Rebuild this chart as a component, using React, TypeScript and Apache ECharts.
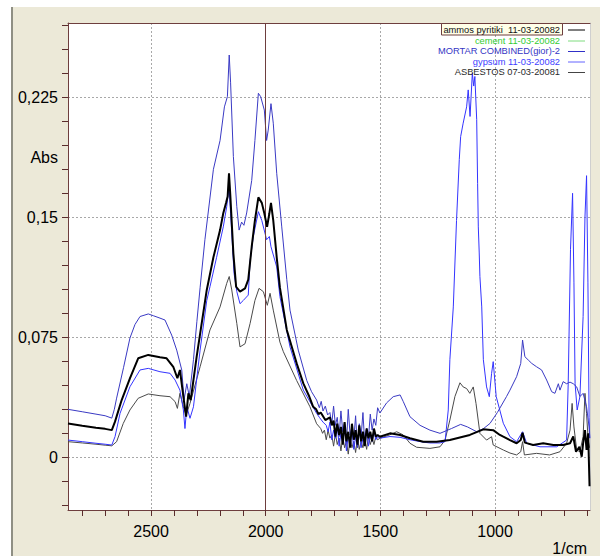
import { useEffect, useRef } from "react";
import * as echarts from "echarts";

// ---------- axis ticks ----------
const xMajorTicks = [1000, 1500, 2000, 2500];
const xMinorTicks = [600, 700, 800, 900, 1000, 1100, 1200, 1300, 1400, 1500, 1600, 1700, 1800, 1900, 2000, 2100, 2200, 2300, 2400, 2500, 2600, 2700, 2800];
const yMajorTicks = [0, 0.075, 0.15, 0.225];
const yLabelValues = [0, 0.075, 0.15, 0.1875, 0.225];
const yMinorTicks = [-0.03, -0.015, 0, 0.015, 0.03, 0.045, 0.06, 0.075, 0.09, 0.105, 0.12, 0.135, 0.15, 0.165, 0.18, 0.195, 0.21, 0.225, 0.24, 0.255, 0.27];
const xMin = 586;
const xMax = 2862;
const yMin = -0.0329;
const yMax = 0.2714;
const cursorWavenumber = 2000;

// ---------- legend ----------
const seriesNames = [
  "ammos pyritiki  11-03-20082",
  "cement 11-03-20082",
  "MORTAR COMBINED(gior)-2",
  "gypsum 11-03-20082",
  "ASBESTOS 07-03-20081",
];

// ---------- series values: [wavenumber (1/cm), Abs] ----------
const ammosData: number[][] = [
  [2862, 0.0212], [2800, 0.0198], [2740, 0.0185], [2700, 0.0178], [2671, 0.017], [2657, 0.0223], [2628, 0.0358], [2592, 0.0494],
  [2556, 0.0619], [2512, 0.064], [2461, 0.0625], [2432, 0.0619], [2403, 0.0566], [2385, 0.0494], [2374, 0.0546], [2359, 0.0379],
  [2347, 0.0254], [2337, 0.04], [2327, 0.0358], [2301, 0.0629], [2257, 0.1046], [2228, 0.125], [2199, 0.142], [2185, 0.1525],
  [2173, 0.159], [2166, 0.163], [2160, 0.1775], [2154, 0.163], [2141, 0.1275], [2129, 0.1066], [2112, 0.1035], [2090, 0.1056],
  [2076, 0.111], [2061, 0.1316], [2047, 0.148], [2032, 0.1625], [2017, 0.159], [2006, 0.1525], [1994, 0.144], [1984, 0.1525],
  [1977, 0.159], [1967, 0.148], [1952, 0.125], [1938, 0.106], [1908, 0.0796], [1865, 0.0587], [1836, 0.0462], [1810, 0.038],
  [1793, 0.0316], [1780, 0.030], [1770, 0.027], [1760, 0.028], [1740, 0.0233],
  [1720, 0.025], [1712, 0.02], [1704, 0.023], [1696, 0.013], [1688, 0.021], [1680, 0.014], [1672, 0.019], [1664, 0.008],
  [1656, 0.022], [1648, 0.01], [1640, 0.016], [1632, 0.006], [1624, 0.021], [1616, 0.011], [1608, 0.017], [1600, 0.008],
  [1592, 0.02], [1584, 0.01], [1576, 0.016], [1568, 0.007], [1560, 0.018], [1552, 0.012], [1544, 0.016], [1536, 0.01],
  [1528, 0.018], [1520, 0.013], [1512, 0.014],
  [1502, 0.0129], [1458, 0.015], [1414, 0.014], [1371, 0.0119], [1313, 0.0098], [1255, 0.0098], [1197, 0.0108], [1110, 0.014],
  [1051, 0.0175], [1008, 0.017], [979, 0.014], [964, 0.0129], [935, 0.0108], [906, 0.0088], [888, 0.0108], [880, 0.0154],
  [870, 0.0092], [834, 0.0077], [790, 0.0088], [746, 0.0077], [703, 0.0077], [673, 0.0088], [659, 0.013], [647, 0.0035],
  [632, 0.0066], [622, 0.0004], [616, 0.0088], [608, 0.017], [601, 0.0046], [594, 0.015], [588, -0.018],
];

const cementData: number[][] = [];

const mortarData: number[][] = [
  [2862, 0.03], [2800, 0.0285], [2740, 0.027], [2700, 0.026], [2671, 0.0245], [2660, 0.03], [2650, 0.037], [2620, 0.056],
  [2592, 0.0745], [2570, 0.083], [2548, 0.088], [2512, 0.0896], [2490, 0.0885], [2461, 0.087], [2439, 0.0858], [2410, 0.0764],
  [2388, 0.067], [2366, 0.0546], [2356, 0.036], [2344, 0.046], [2333, 0.038], [2315, 0.061], [2300, 0.085], [2286, 0.106],
  [2265, 0.136], [2228, 0.18], [2199, 0.198], [2180, 0.219], [2167, 0.2254], [2159, 0.2514], [2153, 0.234], [2141, 0.188],
  [2126, 0.1566], [2116, 0.142], [2105, 0.147], [2095, 0.145], [2083, 0.1527], [2061, 0.173], [2047, 0.198], [2032, 0.2275],
  [2022, 0.2254], [2006, 0.217], [1996, 0.198], [1989, 0.2045], [1977, 0.221], [1967, 0.2088], [1952, 0.1775], [1930, 0.144],
  [1908, 0.111], [1894, 0.092], [1858, 0.067], [1821, 0.048], [1800, 0.041], [1778, 0.0358], [1766, 0.031], [1758, 0.035],
  [1750, 0.029], [1740, 0.032], [1730, 0.0265],
  [1720, 0.028], [1712, 0.021], [1704, 0.032], [1696, 0.02], [1688, 0.025], [1680, 0.013], [1672, 0.029], [1664, 0.016],
  [1656, 0.022], [1648, 0.009], [1640, 0.03], [1632, 0.014], [1624, 0.019], [1616, 0.011], [1608, 0.026], [1600, 0.006],
  [1592, 0.021], [1584, 0.013], [1576, 0.028], [1568, 0.008], [1560, 0.018], [1552, 0.012], [1544, 0.027], [1536, 0.017],
  [1528, 0.024], [1520, 0.02], [1512, 0.031],
  [1502, 0.0277], [1473, 0.034], [1444, 0.0379], [1414, 0.039], [1400, 0.0348], [1371, 0.0254], [1327, 0.02], [1284, 0.017],
  [1240, 0.015], [1190, 0.018], [1150, 0.0206], [1120, 0.019], [1080, 0.016], [1050, 0.018], [1022, 0.0212], [990, 0.028],
  [950, 0.038], [935, 0.042], [906, 0.0504], [888, 0.0587], [880, 0.0733], [870, 0.0629], [855, 0.0608], [840, 0.0587],
  [819, 0.0566], [797, 0.0546], [775, 0.0483], [753, 0.041], [739, 0.04], [724, 0.046], [717, 0.042], [703, 0.0473],
  [688, 0.046], [673, 0.047], [659, 0.046], [644, 0.044], [630, 0.038], [616, 0.04], [601, 0.0316], [590, 0.019], [587, 0.012],
];

const gypsumData: number[][] = [
  [2862, 0.0108], [2800, 0.0098], [2740, 0.0088], [2700, 0.0082], [2671, 0.0077], [2657, 0.0129], [2635, 0.0275], [2592, 0.0441],
  [2548, 0.0546], [2512, 0.0556], [2461, 0.0535], [2417, 0.0525], [2395, 0.0483], [2374, 0.042], [2359, 0.0296], [2352, 0.018],
  [2344, 0.0316], [2330, 0.0244], [2315, 0.0316], [2286, 0.067], [2257, 0.098], [2243, 0.1066], [2214, 0.125], [2185, 0.144],
  [2170, 0.1566], [2160, 0.169], [2153, 0.1525], [2138, 0.115], [2126, 0.1036], [2112, 0.096], [2098, 0.098], [2076, 0.1014],
  [2068, 0.123], [2054, 0.138], [2032, 0.1535], [2017, 0.148], [1996, 0.136], [1984, 0.138], [1977, 0.1316], [1952, 0.119],
  [1938, 0.1004], [1894, 0.069], [1836, 0.042], [1800, 0.033], [1778, 0.0275], [1766, 0.025], [1750, 0.022],
  [1736, 0.02], [1728, 0.016], [1720, 0.022], [1712, 0.011], [1704, 0.017], [1696, 0.012], [1688, 0.021], [1680, 0.007],
  [1672, 0.015], [1664, 0.009], [1656, 0.019], [1648, 0.004], [1640, 0.014], [1632, 0.008], [1624, 0.018], [1616, 0.005],
  [1608, 0.013], [1600, 0.007], [1592, 0.02], [1584, 0.006], [1576, 0.012], [1568, 0.009], [1560, 0.018], [1552, 0.007],
  [1544, 0.014], [1536, 0.01], [1528, 0.017], [1520, 0.011], [1512, 0.013],
  [1502, 0.012], [1458, 0.013], [1414, 0.0125], [1371, 0.011], [1313, 0.0095], [1284, 0.009], [1240, 0.009], [1218, 0.0098],
  [1204, 0.0296], [1197, 0.061], [1182, 0.094], [1168, 0.148], [1156, 0.186], [1150, 0.2004], [1139, 0.2088], [1124, 0.219],
  [1117, 0.2296], [1109, 0.213], [1099, 0.24], [1093, 0.232], [1088, 0.238], [1080, 0.211], [1076, 0.171], [1073, 0.144],
  [1069, 0.1277], [1066, 0.113], [1058, 0.094], [1051, 0.061], [1037, 0.044], [1025, 0.0379], [1015, 0.0525], [1008, 0.0598],
  [995, 0.038], [964, 0.0213], [935, 0.0129], [906, 0.0098], [880, 0.016], [862, 0.0088], [804, 0.0066], [731, 0.0066],
  [688, 0.0108], [681, 0.046], [671, 0.13], [662, 0.165], [656, 0.109], [651, 0.046], [642, 0.0296], [630, 0.038],
  [616, 0.088], [608, 0.15], [601, 0.176], [595, 0.109], [590, 0.025], [587, 0.012],
];

const asbestosData: number[][] = [
  [2862, 0.0098], [2800, 0.009], [2740, 0.0082], [2700, 0.0076], [2671, 0.0072], [2650, 0.0098], [2621, 0.0212], [2592, 0.0296],
  [2556, 0.0369], [2512, 0.0396], [2461, 0.0385], [2417, 0.0379], [2395, 0.0348], [2385, 0.0306], [2374, 0.04], [2359, 0.0316],
  [2347, 0.0264], [2330, 0.0337], [2286, 0.0566], [2243, 0.0796], [2199, 0.094], [2170, 0.1087], [2159, 0.113], [2148, 0.1046],
  [2126, 0.0837], [2112, 0.069], [2090, 0.071], [2068, 0.0837], [2047, 0.098], [2029, 0.1056], [2010, 0.1035], [1993, 0.095],
  [1981, 0.1025], [1967, 0.092], [1938, 0.072], [1923, 0.066], [1865, 0.048], [1807, 0.0316], [1778, 0.021],
  [1760, 0.018], [1752, 0.015], [1744, 0.017], [1736, 0.011], [1728, 0.017], [1720, 0.012], [1712, 0.014], [1704, 0.007],
  [1696, 0.015], [1688, 0.008], [1680, 0.012], [1672, 0.004], [1664, 0.013], [1656, 0.006], [1648, 0.01], [1640, 0.002],
  [1632, 0.012], [1624, 0.006], [1616, 0.01], [1608, 0.003], [1600, 0.012], [1592, 0.005], [1584, 0.01], [1576, 0.006],
  [1568, 0.012], [1560, 0.005], [1552, 0.013], [1544, 0.008], [1536, 0.012], [1528, 0.008], [1520, 0.013], [1512, 0.011],
  [1502, 0.0119], [1460, 0.014], [1429, 0.016], [1400, 0.014], [1371, 0.0088], [1342, 0.0063], [1284, 0.0056], [1240, 0.0066],
  [1218, 0.0108], [1197, 0.0233], [1175, 0.038], [1153, 0.0466], [1139, 0.044], [1124, 0.043], [1110, 0.04], [1095, 0.044],
  [1083, 0.0337], [1066, 0.015], [1037, 0.0108], [1015, 0.0129], [1008, 0.0077], [964, 0.0046], [935, 0.0027], [906, 0.0015],
  [888, 0.0035], [880, 0.0098], [872, 0.0015], [819, 0.0025], [762, 0.0015], [717, 0.0035], [688, 0.0088], [673, 0.017],
  [664, 0.0337], [656, 0.019], [644, 0.0046], [630, 0.0035], [616, 0.013], [608, 0.04], [601, 0.0275], [594, 0.0108], [588, 0.006],
];

const FONT = "'Liberation Sans', Arial, sans-serif";
const BROWN = "#6e3e3e";
const TICK_BROWN = "#5a2c2c";

const legendTextColors = ["#111111", "#33cc33", "#3434c4", "#3e3eff", "#2a2a2a"];
const legendLineColors = ["#000000", "#7fdc7f", "#3030c8", "#6464ff", "#444444"];
const legendRowY = [29.5, 40.5, 51, 61.5, 72];

export default function App() {
  const ref = useRef<HTMLDivElement>(null);

  useEffect(() => {
    if (!ref.current) return;
    const chart = echarts.init(ref.current, null, { renderer: "svg" });

    const fmtY = (v: number) => {
      if (Math.abs(v - 0.1875) < 1e-9) return "Abs";
      if (Math.abs(v) < 1e-12) return "0";
      return String(Number(v.toFixed(4))).replace(".", ",");
    };
    const fmtX = (v: number) => String(Math.round(v));

    const graphics: any[] = [
      { type: "rect", shape: { x: 0, y: 0, width: 600, height: 7 }, style: { fill: "#ffffff" } },
      { type: "rect", shape: { x: 0, y: 0, width: 11, height: 556 }, style: { fill: "#ffffff" } },
      { type: "line", shape: { x1: 12, y1: 7, x2: 12, y2: 556 }, style: { stroke: "#8f8f84", lineWidth: 2 } },
      {
        type: "text",
        style: {
          text: "1/cm",
          x: 587,
          y: 548,
          align: "right",
          verticalAlign: "middle",
          fontSize: 16,
          fontFamily: FONT,
          fill: "#000",
        },
      },
      {
        type: "rect",
        z: 10,
        shape: { x: 441.5, y: 23.5, width: 121, height: 11.5 },
        style: { fill: "#ffffe8", stroke: BROWN, lineWidth: 1 },
      },
    ];
    seriesNames.forEach((name, i) => {
      graphics.push({
        type: "text",
        z: 11,
        style: {
          text: name,
          x: 560,
          y: legendRowY[i],
          align: "right",
          verticalAlign: "middle",
          fontSize: 9.3,
          fontFamily: FONT,
          fill: legendTextColors[i],
        },
      });
      graphics.push({
        type: "line",
        z: 11,
        shape: { x1: 568, y1: legendRowY[i] + 0.5, x2: 585, y2: legendRowY[i] + 0.5 },
        style: { stroke: legendLineColors[i], lineWidth: 1 },
      });
    });

    const baseSeries = (name: string, data: number[][], color: string, width: number, z: number) => ({
      name,
      type: "line",
      data,
      symbol: "none",
      showSymbol: false,
      silent: true,
      z,
      lineStyle: { color, width },
      itemStyle: { color },
      clip: true,
    });

    const hiddenAxisParts = {
      axisLine: { show: false, onZero: false },
      axisTick: { show: false },
      axisLabel: { show: false },
      splitLine: { show: false },
    };

    const option: any = {
      animation: false,
      backgroundColor: "#ece9d8",
      textStyle: { fontFamily: FONT },
      grid: [
        {
          left: 68,
          right: 10,
          top: 23,
          bottom: 46,
          show: true,
          backgroundColor: "#ffffff",
          borderWidth: 0,
          containLabel: false,
        },
        { left: 68, right: 10, top: 510, height: 6, show: false, containLabel: false },
        { left: 62, width: 6, top: 23, bottom: 46, show: false, containLabel: false },
      ],
      xAxis: [
        {
          type: "value",
          gridIndex: 0,
          inverse: true,
          min: xMin,
          max: xMax,
          position: "bottom",
          axisLine: { show: true, onZero: false, lineStyle: { color: BROWN, width: 1 } },
          axisTick: { show: true, inside: false, length: 6, customValues: xMinorTicks, lineStyle: { color: TICK_BROWN, width: 1 } },
          axisLabel: { show: false, customValues: xMinorTicks },
          splitLine: { show: false },
        },
        {
          type: "value",
          gridIndex: 0,
          inverse: true,
          min: xMin,
          max: xMax,
          position: "bottom",
          axisLine: { show: false, onZero: false },
          axisTick: { show: false, customValues: xMajorTicks },
          axisLabel: {
            show: true,
            customValues: xMajorTicks,
            formatter: fmtX,
            margin: 13,
            fontSize: 16,
            color: "#000",
            fontFamily: FONT,
          },
          splitLine: { show: true, lineStyle: { color: "#a8a8a8", type: [2, 2], width: 1 } },
        },
        {
          type: "value",
          gridIndex: 0,
          inverse: true,
          min: xMin,
          max: xMax,
          position: "top",
          axisLine: { show: true, onZero: false, lineStyle: { color: BROWN, width: 1 } },
          axisTick: { show: false },
          axisLabel: { show: false },
          splitLine: { show: false },
        },
        {
          type: "value",
          gridIndex: 1,
          inverse: true,
          min: xMin,
          max: xMax,
          axisLine: { show: false, onZero: false },
          axisTick: { show: false, customValues: xMinorTicks },
          axisLabel: { show: false, customValues: xMinorTicks },
          splitLine: { show: true, lineStyle: { color: TICK_BROWN, type: "solid", width: 1 } },
        },
        { type: "value", gridIndex: 2, min: 0, max: 1, ...hiddenAxisParts },
      ],
      yAxis: [
        {
          type: "value",
          gridIndex: 0,
          min: yMin,
          max: yMax,
          position: "left",
          axisLine: { show: true, onZero: false, lineStyle: { color: BROWN, width: 1 } },
          axisTick: { show: true, inside: false, length: 6, customValues: yMinorTicks, lineStyle: { color: TICK_BROWN, width: 1 } },
          axisLabel: { show: false, customValues: yMinorTicks },
          splitLine: { show: false },
        },
        {
          type: "value",
          gridIndex: 0,
          min: yMin,
          max: yMax,
          position: "left",
          axisLine: { show: false, onZero: false },
          axisTick: { show: false, customValues: yMajorTicks },
          axisLabel: {
            show: true,
            customValues: yLabelValues,
            formatter: fmtY,
            margin: 10,
            fontSize: 16,
            color: "#000",
            fontFamily: FONT,
          },
          splitLine: { show: true, lineStyle: { color: "#a8a8a8", type: [2, 2], width: 1 } },
        },
        {
          type: "value",
          gridIndex: 0,
          min: yMin,
          max: yMax,
          position: "right",
          axisLine: { show: true, onZero: false, lineStyle: { color: "#cfcfcf", width: 1 } },
          axisTick: { show: false },
          axisLabel: { show: false },
          splitLine: { show: false },
        },
        { type: "value", gridIndex: 1, min: 0, max: 1, ...hiddenAxisParts },
        {
          type: "value",
          gridIndex: 2,
          min: yMin,
          max: yMax,
          axisLine: { show: false, onZero: false },
          axisTick: { show: false, customValues: yMinorTicks },
          axisLabel: { show: false, customValues: yMinorTicks },
          splitLine: { show: true, lineStyle: { color: TICK_BROWN, type: "solid", width: 1 } },
        },
      ],
      graphic: { elements: graphics },
      series: [
        baseSeries(seriesNames[4], asbestosData, "#4a4a4a", 1, 2),
        baseSeries(seriesNames[3], gypsumData, "#3434ff", 1, 3),
        {
          ...baseSeries(seriesNames[2], mortarData, "#3a3ac4", 1, 4),
          markLine: {
            silent: true,
            symbol: ["none", "none"],
            label: { show: false },
            lineStyle: { color: BROWN, type: "solid", width: 1 },
            data: [{ xAxis: cursorWavenumber }],
          },
        },
        baseSeries(seriesNames[1], cementData, "#33cc33", 1, 5),
        baseSeries(seriesNames[0], ammosData, "#000000", 2, 6),
        // empty anchor series so the tick-band grids own a series
        { type: "line", name: "xTickBand", xAxisIndex: 3, yAxisIndex: 3, data: [], silent: true, symbol: "none" },
        { type: "line", name: "yTickBand", xAxisIndex: 4, yAxisIndex: 4, data: [], silent: true, symbol: "none" },
      ],
    };

    chart.setOption(option);
    return () => chart.dispose();
  }, []);

  return (
    <div
      ref={ref}
      style={{ position: "fixed", left: 0, top: 0, width: 600, height: 556, background: "#ffffff" }}
    />
  );
}
